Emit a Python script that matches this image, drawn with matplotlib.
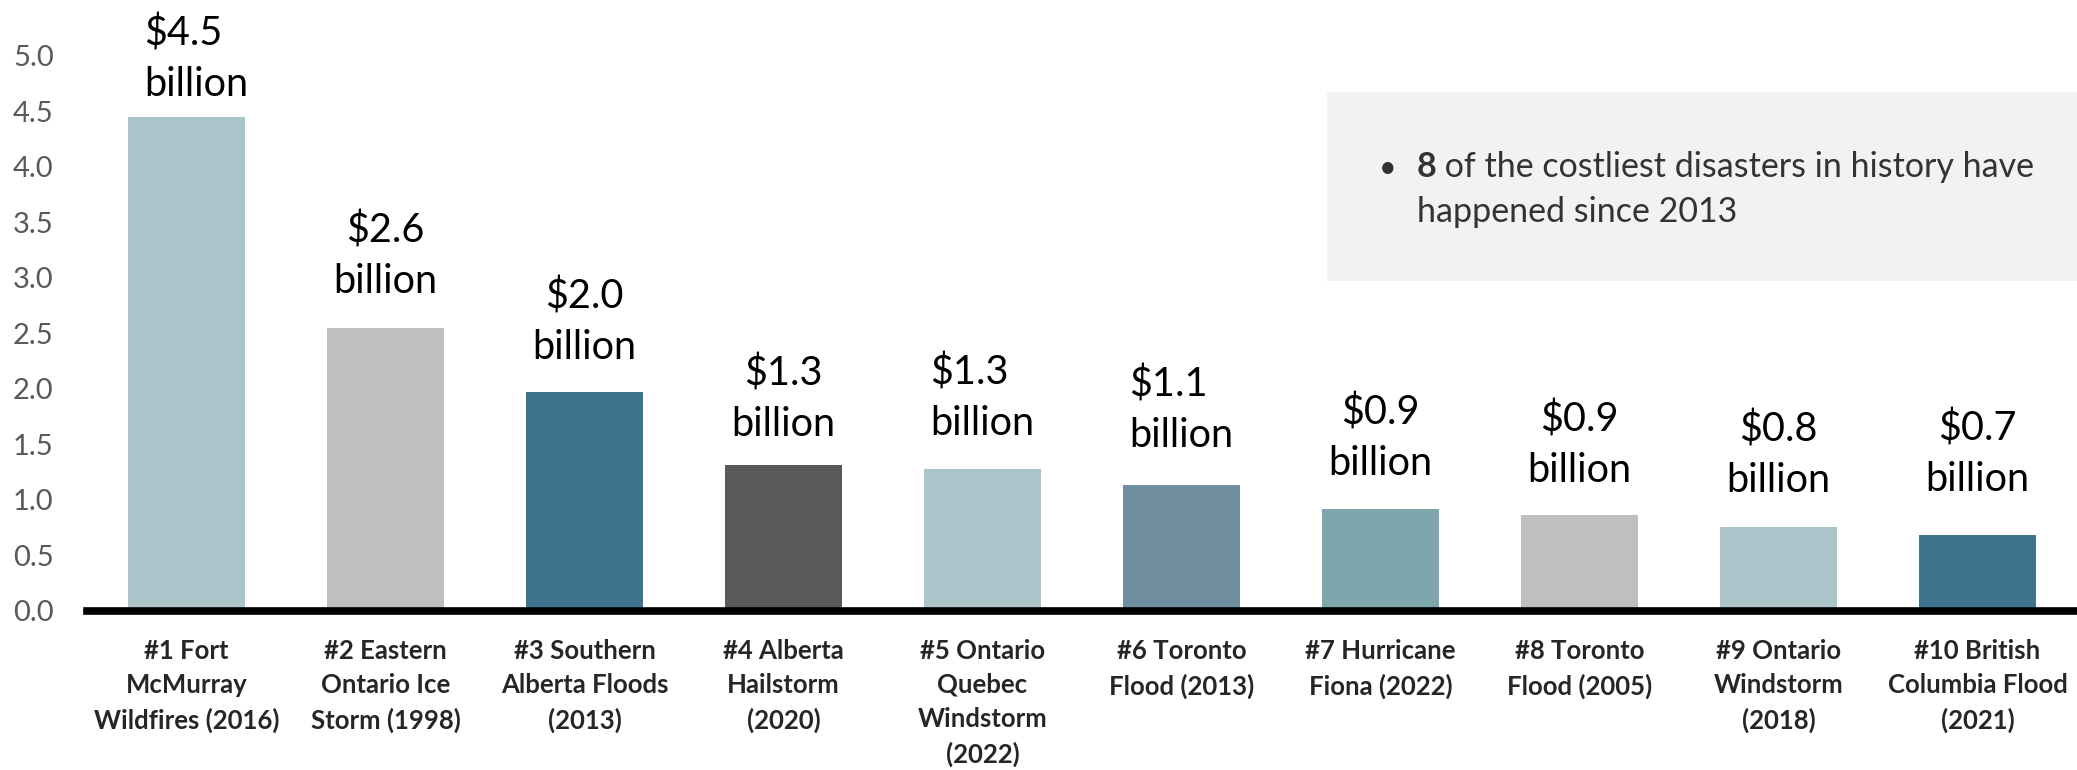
import matplotlib.pyplot as plt
from matplotlib.patches import Rectangle

# données (milliards $)
disasters = [
    "#1 Fort\nMcMurray\nWildfires (2016)",
    "#2 Eastern\nOntario Ice\nStorm (1998)",
    "#3 Southern\nAlberta Floods\n(2013)",
    "#4 Alberta\nHailstorm\n(2020)",
    "#5 Ontario\nQuebec\nWindstorm\n(2022)",
    "#6 Toronto\nFlood (2013)",
    "#7 Hurricane\nFiona (2022)",
    "#8 Toronto\nFlood (2005)",
    "#9 Ontario\nWindstorm\n(2018)",
    "#10 British\nColumbia Flood\n(2021)",
]
costs = [4.45, 2.55, 1.97, 1.31, 1.28, 1.13, 0.92, 0.86, 0.76, 0.68]
cost_labels = ["$4.5", "$2.6", "$2.0", "$1.3", "$1.3", "$1.1", "$0.9", "$0.9", "$0.8", "$0.7"]
yticks = [0.0, 0.5, 1.0, 1.5, 2.0, 2.5, 3.0, 3.5, 4.0, 4.5, 5.0]

# style des étiquettes (placées à la main dans l'original)
colors = ["#ABC5CA", "#BFBFBF", "#3E728D", "#595959", "#ABC5CA",
          "#7090A2", "#7DA7AD", "#BFBFBF", "#ABC5CA", "#3E728D"]
label_align = ["left", "center", "center", "center", "left",
               "left", "center", "center", "center", "center"]
label_dx = [7, 0, 0, 0, 0, 0, 0, 0, 0, 0]
label_gap = [10, 20, 19, 16, 19, 23, 19, 19, 20, 27]

plt.rcParams["font.family"] = ["Lato", "DejaVu Sans"]

fig = plt.figure(figsize=(20.77, 7.7), dpi=100)
ax = fig.add_axes([0.0419, 0.2065, 0.9581, 0.7213])

x = list(range(len(costs)))
ax.bar(x, costs, width=0.59, color=colors, zorder=2)

for xi, v, lab, al, dx, g in zip(x, costs, cost_labels, label_align, label_dx, label_gap):
    ax.annotate(lab + "\nbillion", (xi, v), xytext=(dx, g), textcoords="offset points",
                ha="center", va="bottom", multialignment=al, fontsize=28.5,
                color="black", linespacing=1.45, annotation_clip=False)

ax.set_xlim(-0.5, 9.5)
ax.set_ylim(0, 5)
ax.set_yticks(yticks)
ax.set_yticklabels([f"{t:.1f}" for t in yticks], fontsize=21, color="#595959")
ax.set_xticks(x)
ax.set_xticklabels(disasters, fontsize=18.5, fontweight="bold", color="#262626",
                   linespacing=1.5, va="top")
ax.tick_params(axis="both", length=0)
ax.tick_params(axis="y", pad=24)
ax.tick_params(axis="x", pad=20)

for s in ["top", "right", "left"]:
    ax.spines[s].set_visible(False)
ax.spines["bottom"].set_linewidth(5.5)
ax.spines["bottom"].set_color("black")
ax.spines["bottom"].set_zorder(3)

# encadré texte
fig.patches.append(Rectangle((0.639, 0.635), 0.361, 0.245, transform=fig.transFigure,
                             facecolor="#F2F2F2", edgecolor="none", zorder=0))
fig.text(0.664, 0.770, "•", fontsize=22, color="#333333", va="baseline")
t8 = fig.text(0.682, 0.770, "8", fontsize=24.5, fontweight="bold", color="#333333", va="baseline")
fig.canvas.draw()
bb = t8.get_window_extent().transformed(fig.transFigure.inverted())
fig.text(bb.x1, 0.770, " of the costliest disasters in history have", fontsize=24.5,
         color="#333333", va="baseline")
fig.text(0.682, 0.712, "happened since 2013", fontsize=24.5, color="#333333", va="baseline")

fig.savefig("out.png", dpi=100)
